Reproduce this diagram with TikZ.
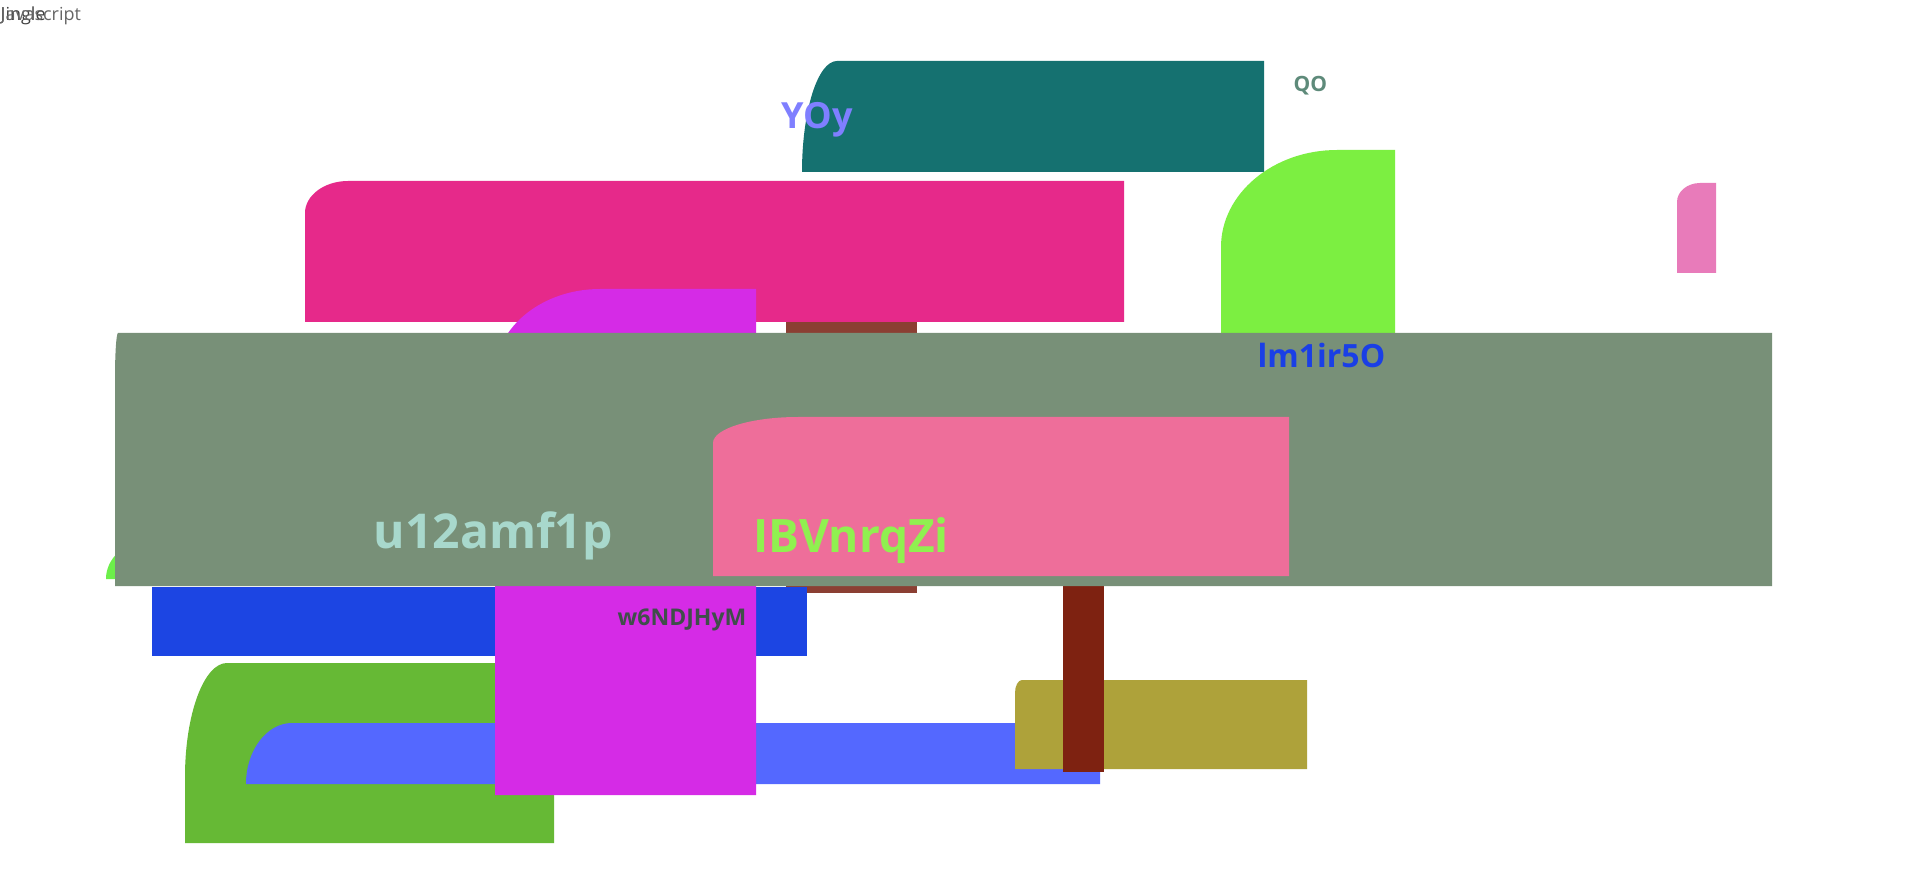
\documentclass[tikz,border=0pt]{standalone}
\usepackage{fontspec}
\setmainfont{Open Sans}
% box with an elliptic top-left corner: colour, x1, top, x2, bottom, rx, ry
\newcommand{\tlbox}[7]{\fill[#1] (#2,#5) -- (#2,{#3+#7}) .. controls (#2,{#3+0.45*#7}) and ({#2+0.45*#6},#3) .. ({#2+#6},#3) -- (#4,#3) -- (#4,#5) -- cycle;}
\newcommand{\px}[1]{\fontsize{\fpeval{#1*0.2845}pt}{\fpeval{#1*0.34}pt}\selectfont}
\begin{document}
\begin{tikzpicture}[x=0.01cm, y=-0.01cm, line join=round, line cap=round,
	lbl/.style={anchor=base west, inner sep=0pt, font=\bfseries}]
			\definecolor{cteal}{HTML}{157170} \definecolor{cmag}{HTML}{E6298A}
			\definecolor{cbrown}{HTML}{8B3F33} \definecolor{clime}{HTML}{7CEF41}
			\definecolor{cpinks}{HTML}{E87BBA} \definecolor{climeb}{HTML}{6CEF4A}
			\definecolor{cblue}{HTML}{1C45E3} \definecolor{cgreen}{HTML}{66B935}
			\definecolor{cperi}{HTML}{5468FF} \definecolor{colive}{HTML}{AEA23A}
			\definecolor{cred}{HTML}{7E2211} \definecolor{cviolet}{HTML}{D52BE6}
			\definecolor{cgray}{HTML}{789078} \definecolor{cpink}{HTML}{EE6E9A}
			\useasboundingbox (0,0) rectangle (1920,870);
			\fill[white] (0,0) rectangle (1920,870);
			% back shapes
			\tlbox{cteal}{802}{61}{1264}{172}{35}{111}
			\tlbox{cmag}{305}{181}{1124}{322}{43}{32}
			\fill[cbrown] (786,322) rectangle (917,593);
			\tlbox{clime}{1221}{150}{1395}{333}{116}{97}
			\tlbox{cpinks}{1677}{183}{1716}{273}{23}{19}
			\tlbox{climeb}{106}{542}{300}{579}{40}{37}
			\fill[cblue] (152,587) rectangle (807,656);
			\tlbox{cgreen}{185}{663}{554}{843}{42}{114}
			\tlbox{cperi}{246}{723}{1100}{784}{46}{61}
			\tlbox{colive}{1015}{680}{1307}{769}{7}{13}
			\fill[cred] (1063,580) rectangle (1104,772);
			\tlbox{cviolet}{495}{289}{756}{795}{105}{85}
			% front shapes
			\tlbox{cgray}{115}{333}{1772}{586}{3}{45}
			\tlbox{cpink}{713}{417}{1289}{576}{85}{26}
			% labels
			\node[anchor=base west, inner sep=0pt, font=\px{18}, text=black!75] (tj) at (0,21) {Jingle};
			\node[anchor=base west, inner sep=0pt, font=\px{18}, text=black!60] (ts) at (0,21) {Javascript};
			\node[lbl, font=\bfseries\px{36}, text={rgb,255:red,127;green,127;blue,255}] (yoy) at (781,129) {YOy};
			\node[lbl, font=\bfseries\px{21}, text={rgb,255:red,94;green,138;blue,122}] (qo) at (1293,92) {QO};
			\node[lbl, font=\bfseries\px{32}, text={rgb,255:red,26;green,63;blue,230}] (lm) at (1257,368) {lm1ir5O};
			\node[lbl, font=\bfseries\px{48}, text={rgb,255:red,168;green,216;blue,204}] (u12) at (373,548) {u12amf1p};
			\node[lbl, font=\bfseries\px{46}, text={rgb,255:red,144;green,240;blue,80}] (ibv) at (753,553) {IBVnrqZi};
			\node[lbl, font=\bfseries\px{23}, text={rgb,255:red,63;green,79;blue,74}] (w6) at (617,626) {w6NDJHyM};
	\end{tikzpicture}
\end{document}
